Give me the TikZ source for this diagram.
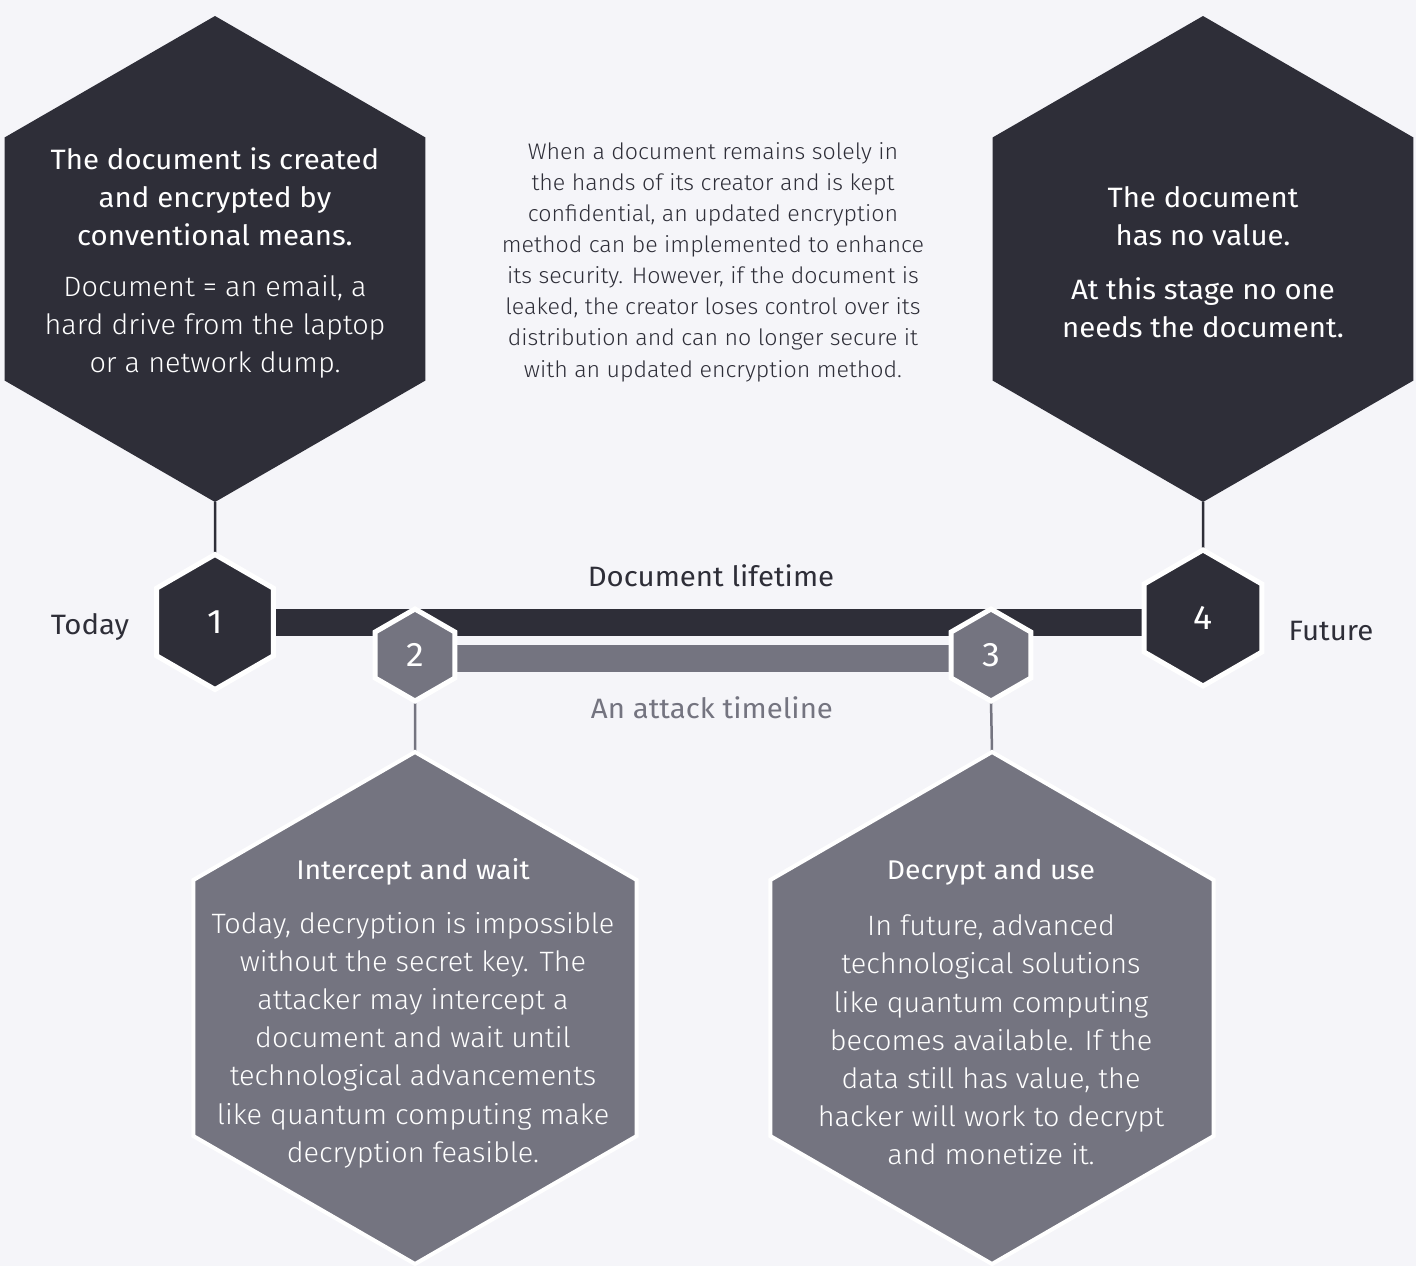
\documentclass[tikz,border=0pt]{standalone}
\usepackage{fontspec}
\setmainfont{Fira Sans}[FakeStretch=1.05]
\newfontfamily\lightfont{Fira Sans Light}[FakeStretch=1.03]
\usetikzlibrary{shapes.geometric}
\definecolor{ink}{HTML}{2E2E38}
\definecolor{slate}{HTML}{747480}
\definecolor{paper}{HTML}{F5F5F9}
\pgfdeclarelayer{back}
\pgfsetlayers{back,main}
\begin{document}
\begin{tikzpicture}[x=1pt,y=-1pt,
  hexa/.style={regular polygon, regular polygon sides=6, shape border rotate=30,
    inner sep=0pt, outer sep=0pt},
  bighex/.style={hexa, fill=ink, minimum size=486},
  atkhex/.style={hexa, fill=slate, draw=white, line width=4, minimum size=512},
  numhex/.style={hexa, draw=white, line width=5, text=white,
    font=\fontsize{34}{34}\selectfont},
  headtxt/.style={align=center, font=\fontsize{28}{38}\selectfont},
  bodytxt/.style={align=center, font=\lightfont\fontsize{28}{38.2}\selectfont},
  labeltxt/.style={font=\fontsize{28}{28}\selectfont},
  stem/.style={line width=2.5},
  bar/.style={line width=27}
]
\begin{pgfonlayer}{back}
  \fill[paper] (0,0) rectangle (1416,1266);
\end{pgfonlayer}
\useasboundingbox (0,0) rectangle (1416,1266);

% large hexagons
\node[bighex] (h1) at (215,259) {};
\node[bighex] (h4) at (1203,259) {};
\node[atkhex] (h2) at (415,1008) {};
\node[atkhex] (h3) at (992,1008) {};

% numbered hexagons on the timelines
\node[numhex, fill=ink, minimum size=135] (n1) at (215,622) {1};
\node[numhex, fill=ink, minimum size=136] (n4) at (1203,618) {4};
\node[numhex, fill=slate, minimum size=92] (n2) at (415,655) {2};
\node[numhex, fill=slate, minimum size=92] (n3) at (991,655) {3};

% timeline bars and stems behind the hexagons
\begin{pgfonlayer}{back}
  \draw[bar, ink] (n1.center) -- (n1.center -| n4.center);
  \draw[bar, slate] ([yshift=-3.5pt]n2.center) -- ([yshift=-3.5pt]n3.center);
  \draw[stem, ink] (h1.south) -- (n1.north);
  \draw[stem, ink] (h4.south) -- (n4.north);
  \draw[stem, slate] (n2.south) -- (h2.north);
  \draw[stem, slate] (n3.south) -- (h3.north);
\end{pgfonlayer}

% texts of the top hexagons
\node[headtxt, text=white] (t1a) at (215,197)
  {The document is created\\and encrypted by\\conventional means.};
\node[bodytxt, text=white] (t1b) at (215,327)
  {Document = an email, a\\hard drive from the laptop\\or a network dump.};
\node[headtxt, text=white] (t4a) at (1203,216)
  {The document\\has no value.};
\node[headtxt, text=white] (t4b) at (1203,308)
  {At this stage no one\\needs the document.};

% centre note
\node[align=center, text=ink, font=\lightfont\fontsize{22.5}{31.1}\selectfont] (note) at (713,262)
  {When a document remains solely in\\the hands of its creator and is kept\\confidential, an updated encryption\\method can be implemented to enhance\\its security. However, if the document is\\leaked, the creator loses control over its\\distribution and can no longer secure it\\with an updated encryption method.};

% timeline labels
\node[labeltxt, text=ink] (life) at (711,576) {Document lifetime};
\node[labeltxt, text=slate] (attack) at (712,708) {An attack timeline};
\node[labeltxt, text=ink] (today) at (90,627) {Today};
\node[labeltxt, text=ink] (future) at (1331,631) {Future};

% texts of the attack hexagons
\node[text=white, font=\fontsize{27}{27}\selectfont] (t2a) at (413,872) {Intercept and wait};
\node[bodytxt, text=white] (t2b) at (413,1040)
  {Today, decryption is impossible\\without the secret key. The\\attacker may intercept a\\document and wait until\\technological advancements\\like quantum computing make\\decryption feasible.};
\node[text=white, font=\fontsize{27}{27}\selectfont] (t3a) at (991,872) {Decrypt and use};
\node[bodytxt, text=white] (t3b) at (991,1040)
  {In future, advanced\\technological solutions\\like quantum computing\\becomes available. If the\\data still has value, the\\hacker will work to decrypt\\and monetize it.};
\end{tikzpicture}
\end{document}
